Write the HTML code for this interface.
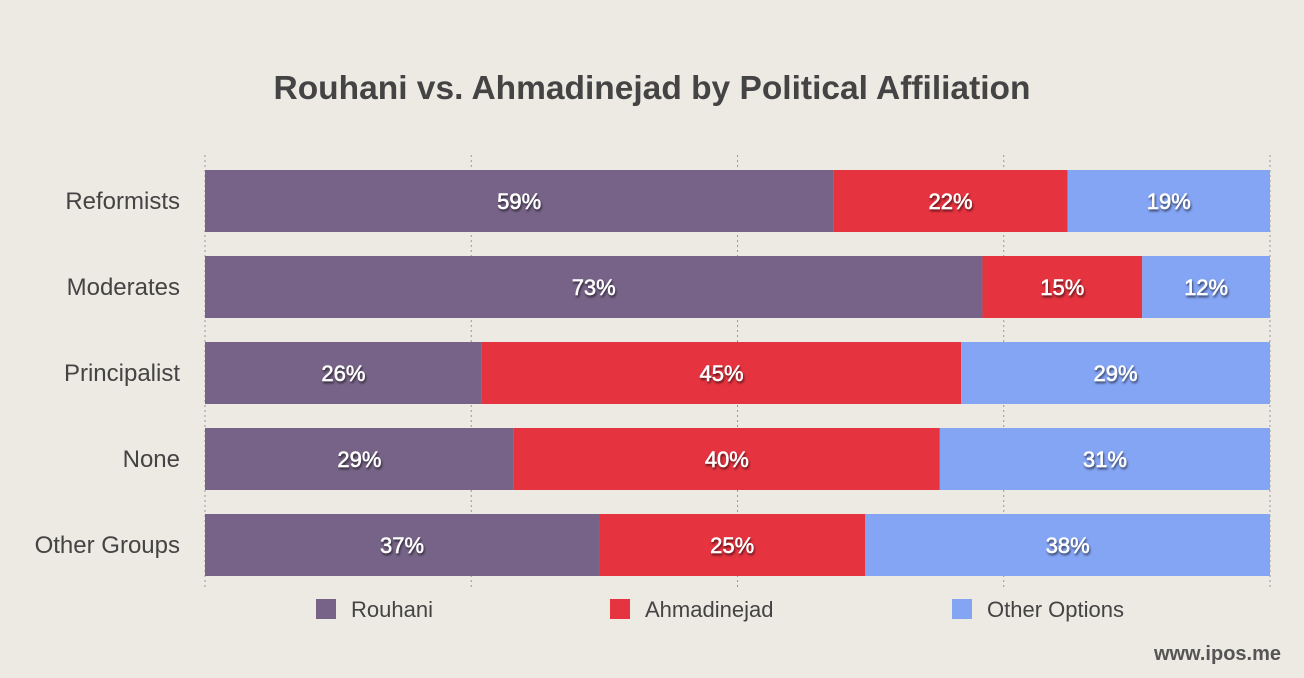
<!DOCTYPE html>
<html><head><meta charset="utf-8"><style>
body{margin:0;background:#ede9e3;font-family:"Liberation Sans",sans-serif;}
svg{display:block}
</style></head><body>
<svg id="chart" width="1304" height="678">
<text x="652" y="99" text-anchor="middle" font-size="33.5" font-weight="bold" fill="#444">Rouhani vs. Ahmadinejad by Political Affiliation</text>
<text x="1281" y="660" text-anchor="end" font-size="20" font-weight="bold" fill="#555">www.ipos.me</text>
</svg>
<script>
const categories=["Reformists","Moderates","Principalist","None","Other Groups"];
const seriesNames=["Rouhani","Ahmadinejad","Other Options"];
const rouhani=[59,73,26,29,37];
const ahmadinejad=[22,15,45,40,25];
const otherOptions=[19,12,29,31,38];
const gridTicks=[0,25,50,75,100];
const colors=["#766387","#e5333f","#84a4f4"];
const svg=document.getElementById('chart');
const NS="http://www.w3.org/2000/svg";
const x0=205,x1=1270;
const xs=v=>x0+(x1-x0)*v/100;
const rowY=i=>170+86*i;
const barH=62;
function mk(tag,attrs){const e=document.createElementNS(NS,tag);for(const k in attrs)e.setAttribute(k,attrs[k]);svg.appendChild(e);return e;}
gridTicks.forEach(t=>{
  const l=mk('line',{x1:xs(t),x2:xs(t),y1:155,y2:590,stroke:'#999','stroke-dasharray':'2,3','stroke-width':1});
  
  
});
const defs=document.createElementNS(NS,'defs');
defs.innerHTML='<filter id="sh" x="-20%" y="-20%" width="140%" height="160%"><feDropShadow dx="1" dy="2" stdDeviation="1" flood-color="#000" flood-opacity="0.6"/></filter>';
svg.appendChild(defs);
const series=[rouhani,ahmadinejad,otherOptions];
categories.forEach((c,i)=>{
  const y=rowY(i);
  const lab=mk('text',{x:180,y:y+barH/2+8,'text-anchor':'end','font-size':24,fill:'#444'});
  lab.textContent=c;
  
  
  let acc=0;
  series.forEach((s,j)=>{
    const v=s[i];
    const r=mk('rect',{x:xs(acc),y:y,width:xs(acc+v)-xs(acc),height:barH,fill:colors[j]});
    
    
    const t=mk('text',{x:(xs(acc)+xs(acc+v))/2,y:y+barH/2+8,'text-anchor':'middle','font-size':22,fill:'#fff',stroke:'#fff','stroke-width':0.5,filter:'url(#sh)'});
    t.textContent=v+'%';
    
    
    acc+=v;
  });
});
const legX=[316,610,952];
seriesNames.forEach((n,j)=>{
  const r=mk('rect',{x:legX[j],y:599,width:20,height:20,fill:colors[j]});
  
  
  const t=mk('text',{x:legX[j]+35,y:617,'font-size':22,fill:'#444'});
  t.textContent=n;
  
  
});
</script>
</body></html>
